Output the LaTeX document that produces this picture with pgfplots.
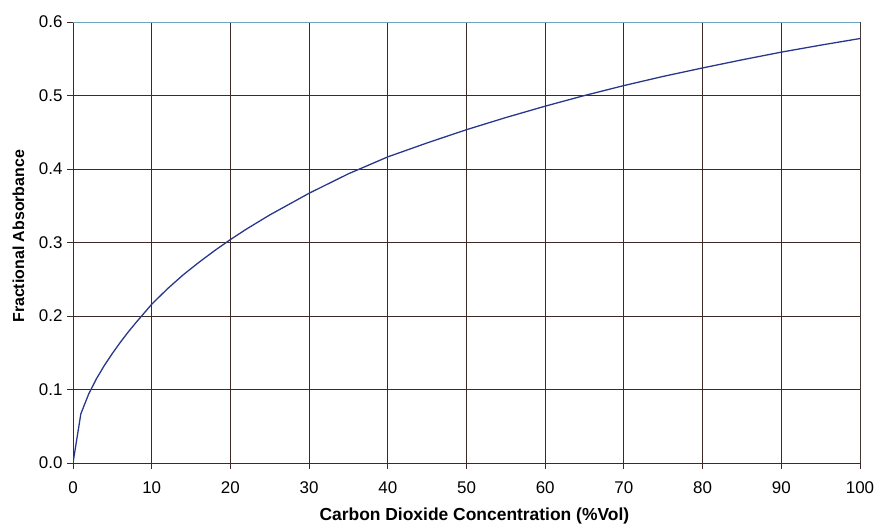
\documentclass[border=0pt]{standalone}
\usepackage{pgfplots}
\pgfplotsset{compat=1.18}
\usepackage{fontspec}
\setmainfont{Liberation Sans}
\definecolor{gridc}{RGB}{62,42,36}
\definecolor{curvec}{RGB}{40,55,140}
\definecolor{framec}{RGB}{110,165,190}

\begin{document}
\begin{tikzpicture}
\useasboundingbox (0,0) rectangle (878bp,524bp);
\begin{axis}[
  at={(73bp,61bp)}, anchor=south west,
  scale only axis,
  width=787bp, height=441bp,
  xmin=0, xmax=100, ymin=0, ymax=0.6,
  xtick={0,10,...,100},
  ytick={0,0.1,...,0.6},
  tick pos=left,
  tick align=outside,
  major tick length=6bp,
  grid=major,
  grid style={gridc, line width=1pt},
  axis line style={gridc, line width=1pt},
  major tick style={gridc, line width=1pt},
  ticklabel style={font=\fontsize{17}{19}\selectfont},
  xticklabel style={yshift=-9bp},
  yticklabel style={xshift=-1bp},
  /pgf/number format/assume math mode=true,
  yticklabel style={/pgf/number format/fixed, /pgf/number format/precision=1, /pgf/number format/fixed zerofill},
  xlabel={Carbon Dioxide Concentration (\%Vol)},
  ylabel={Fractional Absorbance},
  xlabel style={font=\bfseries\fontsize{17.5}{20}\selectfont, at={(axis description cs:0.51,0)}, anchor=base, yshift=-57bp},
  ylabel style={font=\bfseries\fontsize{16}{18}\selectfont, at={([xshift=-54.5bp]axis description cs:0,0.514)}, anchor=center},
]
\addplot[curvec, line width=1.3pt, line join=round] coordinates {
  (0,0) (1,0.067) (2,0.094) (3,0.115) (4,0.133) (5,0.149) (6,0.164)
  (7,0.178) (8,0.191) (9,0.2035) (10,0.216) (12,0.237) (14,0.256)
  (16,0.273) (18,0.289) (20,0.304) (22,0.318) (25,0.3375) (30,0.367)
  (35,0.3935) (40,0.4165) (45,0.4355) (50,0.4535) (55,0.470) (60,0.4855)
  (65,0.500) (70,0.5135) (75,0.526) (80,0.5375) (85,0.5485) (90,0.559)
  (95,0.5685) (100,0.5775)
};
\draw[framec, line width=1pt] (rel axis cs:0,1) -- (rel axis cs:1,1) -- (rel axis cs:1,0);
\end{axis}
\end{tikzpicture}
\end{document}
